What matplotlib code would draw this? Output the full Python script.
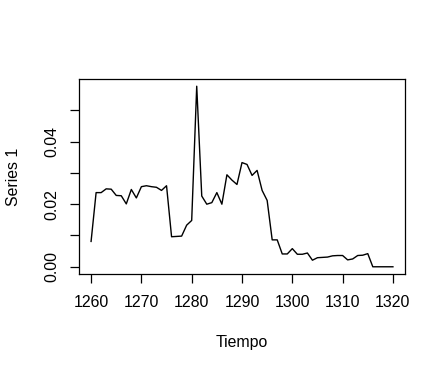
import numpy as np
import matplotlib
matplotlib.use("Agg")
import matplotlib.pyplot as plt

plt.rcParams['font.family'] = ['Liberation Sans', 'DejaVu Sans']

# === Datos ===
anios = list(range(1260, 1321))
serie1 = [0.0081, 0.0237, 0.0237, 0.0249, 0.0248, 0.0228, 0.0227, 0.0201, 0.0247, 0.0220,
          0.0256, 0.0259, 0.0256, 0.0254, 0.0244, 0.0259, 0.0096, 0.0097, 0.0098, 0.0133,
          0.0148, 0.0577, 0.0226, 0.0200, 0.0205, 0.0237, 0.0200, 0.0294, 0.0277, 0.0263,
          0.0333, 0.0327, 0.0292, 0.0308, 0.0244, 0.0212, 0.0086, 0.0086, 0.0041, 0.0041,
          0.0058, 0.0040, 0.0040, 0.0044, 0.0021, 0.0029, 0.0030, 0.0031, 0.0035, 0.0036,
          0.0036, 0.0022, 0.0025, 0.0036, 0.0037, 0.0042, 0.0, 0.0, 0.0, 0.0, 0.0]
xticks = [1260, 1270, 1280, 1290, 1300, 1310, 1320]
yticks = [0.00, 0.01, 0.02, 0.03, 0.04, 0.05]
ytick_labels = ["0.00", "", "0.02", "", "0.04", ""]

fig = plt.figure(figsize=(4.46, 3.72), dpi=100)
W, H = 446, 372
ax = fig.add_axes([79 / W, 1 - 274 / H, (405 - 79) / W, (274 - 79) / H])

ax.plot(anios, serie1, color="black", linewidth=1)

# limites estilo R (4% de margen)
xr = max(anios) - min(anios)
ax.set_xlim(min(anios) - 0.04 * xr, max(anios) + 0.04 * xr)
yr = max(serie1) - min(serie1)
ax.set_ylim(min(serie1) - 0.04 * yr, max(serie1) + 0.04 * yr)

ax.set_xticks(xticks)
ax.set_xticklabels([str(t) for t in xticks])
ax.set_yticks(yticks)
ax.set_yticklabels(ytick_labels, rotation=90, va="center")

ax.tick_params(axis="both", direction="out", length=6.5, width=0.9,
               labelsize=11.4, color="black")
ax.tick_params(axis="x", pad=8.5)
ax.tick_params(axis="y", pad=7.5)
for s in ax.spines.values():
    s.set_linewidth(0.9)
    s.set_color("black")

fig.text(242 / W, 1 - 342 / H, "Tiempo", ha="center", va="center", fontsize=11.4)
fig.text(14 / W, 1 - 176.5 / H, "Series 1", ha="center", va="center",
         rotation=90, fontsize=11.4)

fig.savefig("out.png", dpi=100)
plt.close(fig)
